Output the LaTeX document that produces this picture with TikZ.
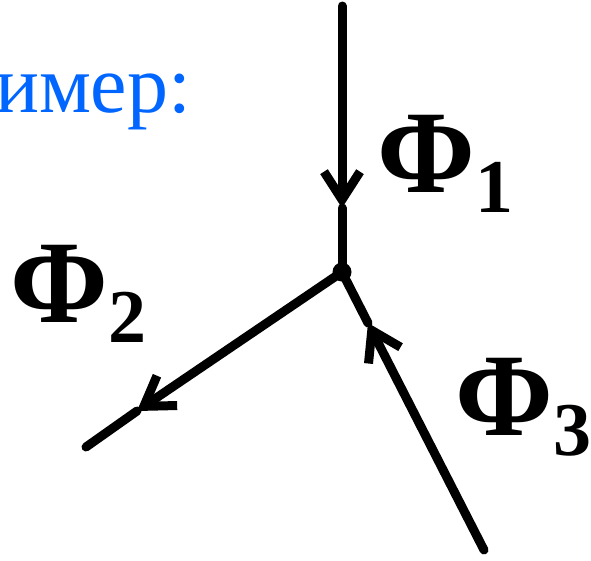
\documentclass[tikz,border=0pt]{standalone}
\usepackage{fontspec}
\setmainfont{Liberation Serif}
\usetikzlibrary{arrows.meta}
\definecolor{titleblue}{RGB}{0,102,255}
\tikzset{
  branch/.style={line width=9pt, line cap=round},
  flowtip/.style={branch, -{Straight Barb[length=28pt,width=36pt]}},
  fluxlabel/.style={anchor=base west, inner sep=0pt, font=\fontsize{118}{120}\selectfont\bfseries}
}
\newcommand{\fluxsub}[1]{\raisebox{-20pt}{\fontsize{76}{80}\selectfont #1}}

\begin{document}
\begin{tikzpicture}[x=1pt,y=-1pt]
    \useasboundingbox (0,0) rectangle (591,560);

    \node[anchor=base west, inner sep=0pt, text=titleblue,
          font=\fontsize{82}{90}\selectfont] (title) at (-5,112) {имер:};

    % junction and branch ends
    \node[circle, fill, inner sep=0pt, minimum size=19pt] (junction) at (342,272) {};
    \coordinate (in1) at (342,6);
    \coordinate (tip1) at (342,208);
    \coordinate (out2) at (86,447);
    \coordinate (tip2) at (137,411);
    \coordinate (in3) at (484,550);
    \coordinate (tip3) at (368,323);

    \draw[flowtip] (in1) -- (tip1);
    \draw[branch] (tip1) -- (junction.center);
    \draw[flowtip] (junction.center) -- (tip2);
    \draw[branch] (tip2) -- (out2);
    \draw[flowtip] (in3) -- (tip3);
    \draw[branch] (tip3) -- (junction.center);

    % labels
    \node[fluxlabel] (phi1) at (377,192) {Φ\fluxsub{1}};
    \node[fluxlabel] (phi2) at (10,322) {Φ\fluxsub{2}};
    \node[fluxlabel] (phi3) at (455,435) {Φ\fluxsub{3}};
\end{tikzpicture}
\end{document}
